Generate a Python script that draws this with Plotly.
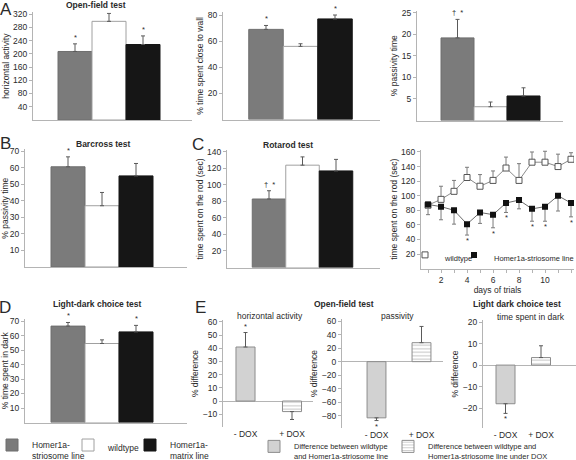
import plotly.graph_objects as go

W, H = 576, 460

# ---------------- data ----------------
groups = ["Homer1a-striosome line", "wildtype", "Homer1a-matrix line"]
group_legend_names = ["Homer1a-<br>striosome line", "wildtype", "Homer1a-<br>matrix line"]

openfield_activity = [207, 298, 228]
openfield_activity_err = [23, 24, 26]
openfield_activity_sig = ["*", "", "*"]

openfield_wall = [69, 56, 77]
openfield_wall_err = [3, 2, 3]
openfield_wall_sig = ["*", "", "*"]

openfield_passivity = [19.2, 3.2, 5.7]
openfield_passivity_err = [4.3, 1.1, 1.9]
openfield_passivity_sig = ["†  *", "", ""]

barcross_passivity = [60.5, 37, 55]
barcross_passivity_err = [6, 8, 7.5]
barcross_sig = ["*", "", ""]

rotarod_time = [83, 124, 117]
rotarod_time_err = [10, 10, 14]
rotarod_sig = ["†  *", "", ""]

days = [1, 2, 3, 4, 5, 6, 7, 8, 9, 10, 11, 12]
day_tick_labels = ["", "2", "", "4", "", "6", "", "8", "", "10", "", "12"]
rotarod_wt = [87, 95, 106, 125, 113, 121, 138, 121, 146, 146, 140, 150]
rotarod_wt_err = [4, 18, 15, 14, 16, 13, 15, 23, 14, 15, 17, 9]
rotarod_homer = [88, 85, 80, 61, 77, 74, 90, 94, 82, 85, 100, 90]
rotarod_homer_err = [14, 18, 19, 15, 15, 18, 13, 12, 17, 20, 21, 19]
rotarod_homer_sig = ["", "", "", "*", "", "*", "*", "", "*", "*", "", "*"]
line_names = ["wildtype", "Homer1a-striosome line"]

lightdark_dark = [66.5, 54.5, 62.5]
lightdark_err = [2.5, 2.5, 4.5]
lightdark_sig = ["*", "", "*"]

dox_labels = ["- DOX", "+ DOX"]
diff_names = ["Difference between wildtype<br>and Homer1a-striosome line",
              "Difference between wildtype and<br>Homer1a-striosome line under DOX"]
diff_activity = [41, -8]
diff_activity_err = [11, 6]
diff_activity_sig = ["*", ""]
diff_passivity = [-83, 28]
diff_passivity_err = [4, 24]
diff_passivity_sig = ["*", ""]
diff_dark = [-18, 3.5]
diff_dark_err = [4.5, 5.5]
diff_dark_sig = ["*", ""]

ticks_activity = [40, 80, 120, 160, 200, 240, 280, 320]
ticks_wall = [20, 40, 60, 80]
ticks_passivity = [5, 10, 15, 20, 25]
ticks_barcross = [10, 20, 30, 40, 50, 60, 70]
ticks_rotarod = [20, 40, 60, 80, 100, 120, 140]
ticks_rotarod_days = [20, 40, 60, 80, 100, 120, 140, 160]
ticks_lightdark = [10, 20, 30, 40, 50, 60, 70]
ticks_diff_activity = [-10, 0, 10, 20, 30, 40, 50, 60]
ticks_diff_passivity = [-80, -60, -40, -20, 0, 20, 40, 60]
ticks_diff_dark = [-20, -10, 0, 10, 20]

# ---------------- style ----------------
FH = "Liberation Sans Narrow, Arial Narrow, Liberation Sans, Arial, sans-serif"
FV = "Liberation Sans, Arial, sans-serif"
TXT = "#2a2a2a"
AX = "#b4b4b4"
ERR = "#5a5a5a"
GROUP_FILL = ["#7b7b7b", "#ffffff", "#161616"]
GROUP_LINE = ["#6e6e6e", "#a0a0a0", "#161616"]
DIFF_FILL = "#d2d2d2"
DIFF_LINE = "#8c8c8c"

fig = go.Figure()
layout = {}


def panel(i, xl, xr, yt, yb, xrange, yrange, ytitle, tickvals):
    layout[f"xaxis{i}"] = dict(domain=[xl / W, xr / W], range=xrange, anchor=f"y{i}",
                               showgrid=False, zeroline=False, showline=True, linecolor=AX,
                               linewidth=1, showticklabels=False, ticks="", fixedrange=True,
                               automargin=False)
    layout[f"yaxis{i}"] = dict(domain=[1 - yb / H, 1 - yt / H], range=yrange, anchor=f"x{i}",
                               showgrid=False, zeroline=False, showline=True, linecolor=AX,
                               linewidth=1, ticks="outside", ticklen=3, tickcolor=AX,
                               tickvals=tickvals, tickfont=dict(family=FH, size=8.5, color=TXT),
                               title=dict(text=ytitle, font=dict(family=FV, size=8.5, color=TXT),
                                          standoff=2),
                               fixedrange=True, automargin=False)


def cat_range(xl, xr, c0, u):
    return [(xl - c0) / u, (xr - c0) / u]


def star(i, x, y, text, up=True):
    if not text:
        return
    fig.add_annotation(xref=f"x{i}", yref=f"y{i}", x=x, y=y, text=text, showarrow=False,
                       yanchor="bottom" if up else "top", yshift=0 if up else 1,
                       font=dict(family=FH, size=7.5, color=TXT))


def group_bars(i, values, errs, sigs, legends=None):
    for k, (v, e) in enumerate(zip(values, errs)):
        fig.add_trace(go.Bar(
            x=[k], y=[v], width=1, name=group_legend_names[k],
            marker=dict(color=GROUP_FILL[k], line=dict(color=GROUP_LINE[k], width=1)),
            error_y=dict(type="data", symmetric=False, array=[e], arrayminus=[0],
                         color=ERR, thickness=1, width=2),
            xaxis=f"x{i}", yaxis=f"y{i}",
            showlegend=legends is not None,
            legend=legends[k] if legends else "legend"))
        star(i, k, v + e, sigs[k])


def diff_bars(i, values, errs, sigs, width, legends=None):
    for k, (v, e) in enumerate(zip(values, errs)):
        marker = dict(color=DIFF_FILL if k == 0 else "#ffffff",
                      line=dict(color=DIFF_LINE, width=1))
        if k == 1:
            marker["pattern"] = dict(shape="-", fgcolor=DIFF_LINE, size=3.5, solidity=0.3)
        fig.add_trace(go.Bar(
            x=[k], y=[v], width=width, name=diff_names[k], marker=marker,
            error_y=dict(type="data", symmetric=False,
                         array=[e if v >= 0 else 0], arrayminus=[e if v < 0 else 0],
                         color=ERR, thickness=1, width=2),
            xaxis=f"x{i}", yaxis=f"y{i}",
            showlegend=legends is not None,
            legend=legends[k] if legends else "legend"))
        star(i, k, v + e if v >= 0 else v - e, sigs[k], up=v >= 0)


# Panel A (open field)
panel(1, 33, 192, 12.4, 120, cat_range(33, 192, 75, 34), [0, 325], "horizontal activity", ticks_activity)
group_bars(1, openfield_activity, openfield_activity_err, openfield_activity_sig)
panel(2, 223, 380, 12.4, 119.5, cat_range(223, 380, 266, 34.5), [0, 82], "% time spent close to wall", ticks_wall)
group_bars(2, openfield_wall, openfield_wall_err, openfield_wall_sig)
panel(3, 417, 563, 10.8, 120.5, cat_range(417, 563, 457.5, 33), [0, 25.5], "% passivity time", ticks_passivity)
group_bars(3, openfield_passivity, openfield_passivity_err, openfield_passivity_sig)

# Panel B
panel(4, 25, 187, 149.4, 267, cat_range(25, 187, 68, 34), [0, 71], "% passivity time", ticks_barcross)
group_bars(4, barcross_passivity, barcross_passivity_err, barcross_sig)

# Panel C
panel(5, 227, 380, 150.3, 267.5, cat_range(227, 380, 269, 33.5), [0, 142], "time spent on the rod (sec)", ticks_rotarod)
group_bars(5, rotarod_time, rotarod_time_err, rotarod_sig)

panel(6, 421, 574, 149.8, 268.6, [0.46, 12.23], [0, 163], "time spent on the rod (sec)", ticks_rotarod_days)
layout["xaxis6"].update(showticklabels=True, ticks="outside", ticklen=3, tickcolor=AX,
                        tickvals=days, ticktext=day_tick_labels,
                        tickfont=dict(family=FH, size=8.5, color=TXT),
                        title=dict(text="days of trials", font=dict(family=FH, size=8.5, color=TXT), standoff=0))
fig.add_trace(go.Scatter(
    x=days, y=rotarod_wt, mode="lines+markers", name=line_names[0],
    line=dict(color="#8a8a8a", width=1),
    marker=dict(symbol="square", size=6, color="#ffffff", line=dict(color="#555555", width=1)),
    error_y=dict(type="data", symmetric=False, array=rotarod_wt_err, arrayminus=[0] * len(days),
                 color="#7a7a7a", thickness=1, width=2),
    xaxis="x6", yaxis="y6", showlegend=False))
fig.add_trace(go.Scatter(
    x=days, y=rotarod_homer, mode="lines+markers", name=line_names[1],
    line=dict(color="#6a6a6a", width=1),
    marker=dict(symbol="square", size=6, color="#111111"),
    error_y=dict(type="data", symmetric=False, array=[0] * len(days), arrayminus=rotarod_homer_err,
                 color="#7a7a7a", thickness=1, width=2),
    xaxis="x6", yaxis="y6", showlegend=False))
for d, v, e, s in zip(days, rotarod_homer, rotarod_homer_err, rotarod_homer_sig):
    star(6, d, v - e, s, up=False)
# legend-only entries for the line chart
fig.add_trace(go.Scatter(x=[None], y=[None], mode="markers", name=line_names[0],
                         marker=dict(symbol="square", size=6, color="#ffffff", line=dict(color="#555555", width=1)),
                         xaxis="x6", yaxis="y6", legend="legend"))
fig.add_trace(go.Scatter(x=[None], y=[None], mode="markers", name=line_names[1],
                         marker=dict(symbol="square", size=6, color="#111111"),
                         xaxis="x6", yaxis="y6", legend="legend2"))

# Panel D
panel(7, 25, 187, 319, 422.5, cat_range(25, 187, 68, 34), [0, 71.4], "% time spent in dark", ticks_lightdark)
group_bars(7, lightdark_dark, lightdark_err, lightdark_sig, legends=["legend3", "legend4", "legend5"])

# Panel E
def diff_axes(i):
    layout[f"xaxis{i}"].update(showline=False, showticklabels=True, tickvals=[0, 1], ticktext=dox_labels,
                               tickfont=dict(family=FH, size=8.5, color=TXT))
    layout[f"yaxis{i}"].update(zeroline=True, zerolinecolor=AX, zerolinewidth=1)

panel(8, 223, 313, 320, 427, cat_range(223, 313, 245.5, 46.5), [-19.7, 61.5], "% difference", ticks_diff_activity)
diff_axes(8)
diff_bars(8, diff_activity, diff_activity_err, diff_activity_sig, 0.41, legends=["legend6", "legend7"])
panel(9, 342, 443, 319, 428, cat_range(342, 443, 376.5, 45), [-98, 63], "% difference", ticks_diff_passivity)
diff_axes(9)
diff_bars(9, diff_passivity, diff_passivity_err, diff_passivity_sig, 0.42)
panel(10, 483, 576, 320, 428, cat_range(483, 576, 505.5, 35.5), [-29.3, 21], "% difference", ticks_diff_dark)
diff_axes(10)
diff_bars(10, diff_dark, diff_dark_err, diff_dark_sig, 0.535)

# ---------------- text ----------------
def label(x, y, text, size=8.5, bold=False, family=FH, anchor="center"):
    fig.add_annotation(xref="paper", yref="paper", x=x / W, y=1 - y / H, text=f"<b>{text}</b>" if bold else text,
                       showarrow=False, xanchor=anchor, yanchor="middle",
                       font=dict(family=family, size=size, color=TXT))

label(6, 10, "A", size=17, family=FV)
label(96, 5, "Open-field test", bold=True)
label(5, 143, "B", size=17, family=FV)
label(103, 144, "Barcross test", bold=True)
label(198, 144, "C", size=17, family=FV)
label(288, 145, "Rotarod test", bold=True)
label(5, 307, "D", size=17, family=FV)
label(97, 304, "Light-dark choice test", bold=True)
label(200, 307, "E", size=17, family=FV)
label(270, 316, "horizontal activity")
label(344, 304, "Open-field test", bold=True)
label(397, 316, "passivity")
label(517, 304, "Light dark choice test", bold=True)
label(531, 317, "time spent in dark")

# ---------------- legends ----------------
def leg(x, y, yanchor="middle", size=8.5):
    return dict(x=x / W, y=1 - y / H, xanchor="left", yanchor=yanchor, orientation="h",
                bgcolor="rgba(0,0,0,0)", borderwidth=0, valign="top",
                font=dict(family=FH, size=size, color=TXT), tracegroupgap=0)

layout["legend"] = leg(405, 258, size=7.5)
layout["legend2"] = leg(454, 258, size=7.5)
layout["legend3"] = leg(-8, 433, "top")
layout["legend4"] = leg(68, 433, "top")
layout["legend5"] = leg(130, 433, "top")
layout["legend6"] = leg(254, 435, "top", size=7.5)
layout["legend7"] = leg(388, 435, "top", size=7.5)

fig.update_layout(
    width=W, height=H, margin=dict(l=0, r=0, t=0, b=0, autoexpand=False),
    paper_bgcolor="white", plot_bgcolor="white",
    barmode="overlay", showlegend=True,
    font=dict(family=FH, size=8.5, color=TXT),
    **layout)

fig.write_html("out.html", config={"displayModeBar": False},
               post_script="document.body.style.margin='0';document.body.style.overflow='hidden';")
